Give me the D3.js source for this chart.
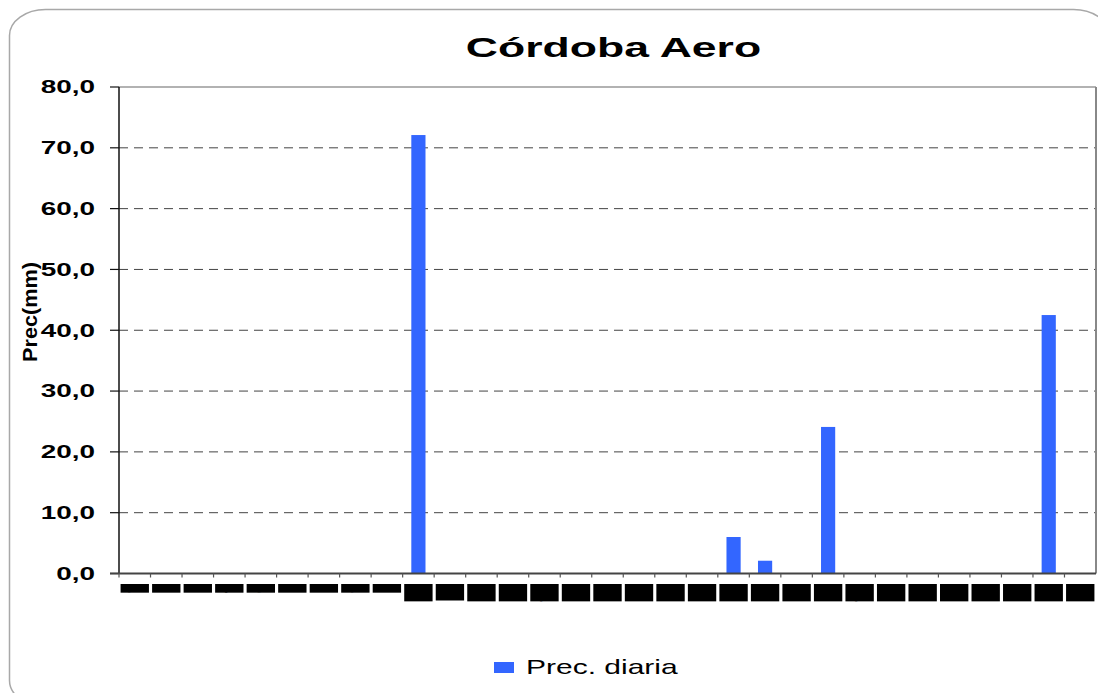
<!DOCTYPE html>
<html>
<head>
<meta charset="utf-8">
<script src="https://cdn.jsdelivr.net/npm/d3@7"></script>
<style>
  html, body { margin: 0; padding: 0; background: #fff; }
  svg { display: block; font-family: "Liberation Sans", Arial, sans-serif; }
</style>
</head>
<body>
<svg id="chart" width="1098" height="693"></svg>
<script>
// ---- data ----
const chartTitle = "Córdoba Aero";
const yAxisTitle = "Prec(mm)";
const seriesName = "Prec. diaria";
const days = ["1","2","3","4","5","6","7","8","9","10","11","12","13","14","15","16",
              "17","18","19","20","21","22","23","24","25","26","27","28","29","30","31"];
const precDiaria = [0, 0, 0, 0, 0, 0, 0, 0, 0, 72.1, 0, 0, 0, 0, 0, 0,
                    0, 0, 0, 6.0, 2.1, 0, 24.1, 0, 0, 0, 0, 0, 0, 42.5, 0];
const yTicks = [0, 10, 20, 30, 40, 50, 60, 70, 80];

// ---- layout ----
const svg = d3.select("#chart");
const plot = { left: 119, right: 1096, top: 87, bottom: 573.5 };
const barColor = "#3366ff";

const x = d3.scaleBand()
  .domain(days)
  .range([plot.left, plot.right])
  .paddingInner(0.55)
  .paddingOuter(0.275);
const step = x.step();
const xCenter = d => x(d) + x.bandwidth() / 2;

const y = d3.scaleLinear().domain([0, 80]).range([plot.bottom, plot.top]);
const fmt = v => d3.format(".1f")(v).replace(".", ",");

// outer rounded frame
svg.append("rect")
  .attr("x", 9.5).attr("y", 9.5)
  .attr("width", 1100).attr("height", 697)
  .attr("rx", 36).attr("ry", 26)
  .attr("fill", "#fff").attr("stroke", "#a8a8a8").attr("stroke-width", 1.5);

// title
svg.append("text")
  .attr("transform", "translate(613.5,57) scale(1.65,1)")
  .attr("text-anchor", "middle")
  .attr("font-size", 27).attr("font-weight", "bold")
  .attr("fill", "#000")
  .text(chartTitle);

// gridlines (dashed)
svg.append("g").selectAll("line")
  .data(yTicks.filter(t => t > 0 && t < 80))
  .join("line")
  .attr("x1", plot.left).attr("x2", plot.right)
  .attr("y1", d => y(d)).attr("y2", d => y(d))
  .attr("stroke", "#444").attr("stroke-width", 1)
  .attr("stroke-dasharray", "9,6");

// plot border top & right
svg.append("line")
  .attr("x1", plot.left).attr("x2", plot.right)
  .attr("y1", plot.top).attr("y2", plot.top)
  .attr("stroke", "#999").attr("stroke-width", 1.5);
svg.append("line")
  .attr("x1", plot.right).attr("x2", plot.right)
  .attr("y1", plot.top).attr("y2", plot.bottom)
  .attr("stroke", "#888").attr("stroke-width", 2);

// bars
svg.append("g").selectAll("rect")
  .data(days.map((d, i) => ({ d, v: precDiaria[i] })).filter(o => o.v > 0))
  .join("rect")
  .attr("x", o => x(o.d))
  .attr("width", x.bandwidth())
  .attr("y", o => y(o.v))
  .attr("height", o => y(0) - y(o.v))
  .attr("fill", barColor);

// y axis line and ticks
svg.append("line")
  .attr("x1", plot.left).attr("x2", plot.left)
  .attr("y1", plot.top).attr("y2", plot.bottom)
  .attr("stroke", "#111").attr("stroke-width", 1.5);
svg.append("g").selectAll("line")
  .data(yTicks).join("line")
  .attr("x1", plot.left - 9).attr("x2", plot.left)
  .attr("y1", d => y(d)).attr("y2", d => y(d))
  .attr("stroke", "#111").attr("stroke-width", 1.2);

// y axis title (drawn before labels, so labels overlap it as in reference)
svg.append("text")
  .attr("transform", "translate(37,312) rotate(-90)")
  .attr("text-anchor", "middle")
  .attr("font-size", 21).attr("font-weight", "bold")
  .attr("textLength", 100).attr("lengthAdjust", "spacingAndGlyphs")
  .attr("fill", "#000")
  .text(yAxisTitle);

// y tick labels
svg.append("g").selectAll("text")
  .data(yTicks).join("text")
  .attr("transform", d => `translate(95,${y(d) + 6.3}) scale(1.55,1)`)
  .attr("text-anchor", "end")
  .attr("font-size", 18).attr("font-weight", "bold")
  .attr("fill", "#000")
  .text(d => fmt(d));

// x axis line and boundary ticks
svg.append("line")
  .attr("x1", plot.left - 9).attr("x2", plot.right)
  .attr("y1", plot.bottom).attr("y2", plot.bottom)
  .attr("stroke", "#444").attr("stroke-width", 2);
svg.append("g").selectAll("line")
  .data(days).join("line")
  .attr("x1", d => x(d) - x.step() * x.paddingOuter())
  .attr("x2", d => x(d) - x.step() * x.paddingOuter())
  .attr("y1", plot.bottom).attr("y2", plot.bottom + 4)
  .attr("stroke", "#555").attr("stroke-width", 1.2);

// x tick labels: day numbers, squeezed into solid blocks as in the reference
const labFs = 20;
svg.append("g").selectAll("g")
  .data(days).join("g")
  .attr("transform", d => `translate(${xCenter(d)},584)`)
  .each(function(d) {
    const gg = d3.select(this);
    const t = gg.append("text")
      .attr("font-size", labFs).attr("font-weight", "bold")
      .attr("fill", "#000")
      .text(d);
    const L = t.node().getComputedTextLength();
    const h = L * 0.78;
    const w = step * 0.9;
    gg.insert("rect", "text")
      .attr("x", -w / 2).attr("y", 0)
      .attr("width", w).attr("height", h)
      .attr("fill", "#000");
    // keep the whole em box of the squeezed text inside its block
    t.attr("y", 0.34 * labFs)
     .attr("transform", `rotate(90) scale(${h / L},${(w * 0.9) / (1.2 * labFs)})`);
  });

// legend
svg.append("rect")
  .attr("x", 494).attr("y", 662)
  .attr("width", 20).attr("height", 11)
  .attr("fill", barColor);
svg.append("text")
  .attr("transform", "translate(526,674) scale(1.5,1)")
  .attr("font-size", 20)
  .attr("fill", "#000")
  .text(seriesName);
</script>
</body>
</html>
